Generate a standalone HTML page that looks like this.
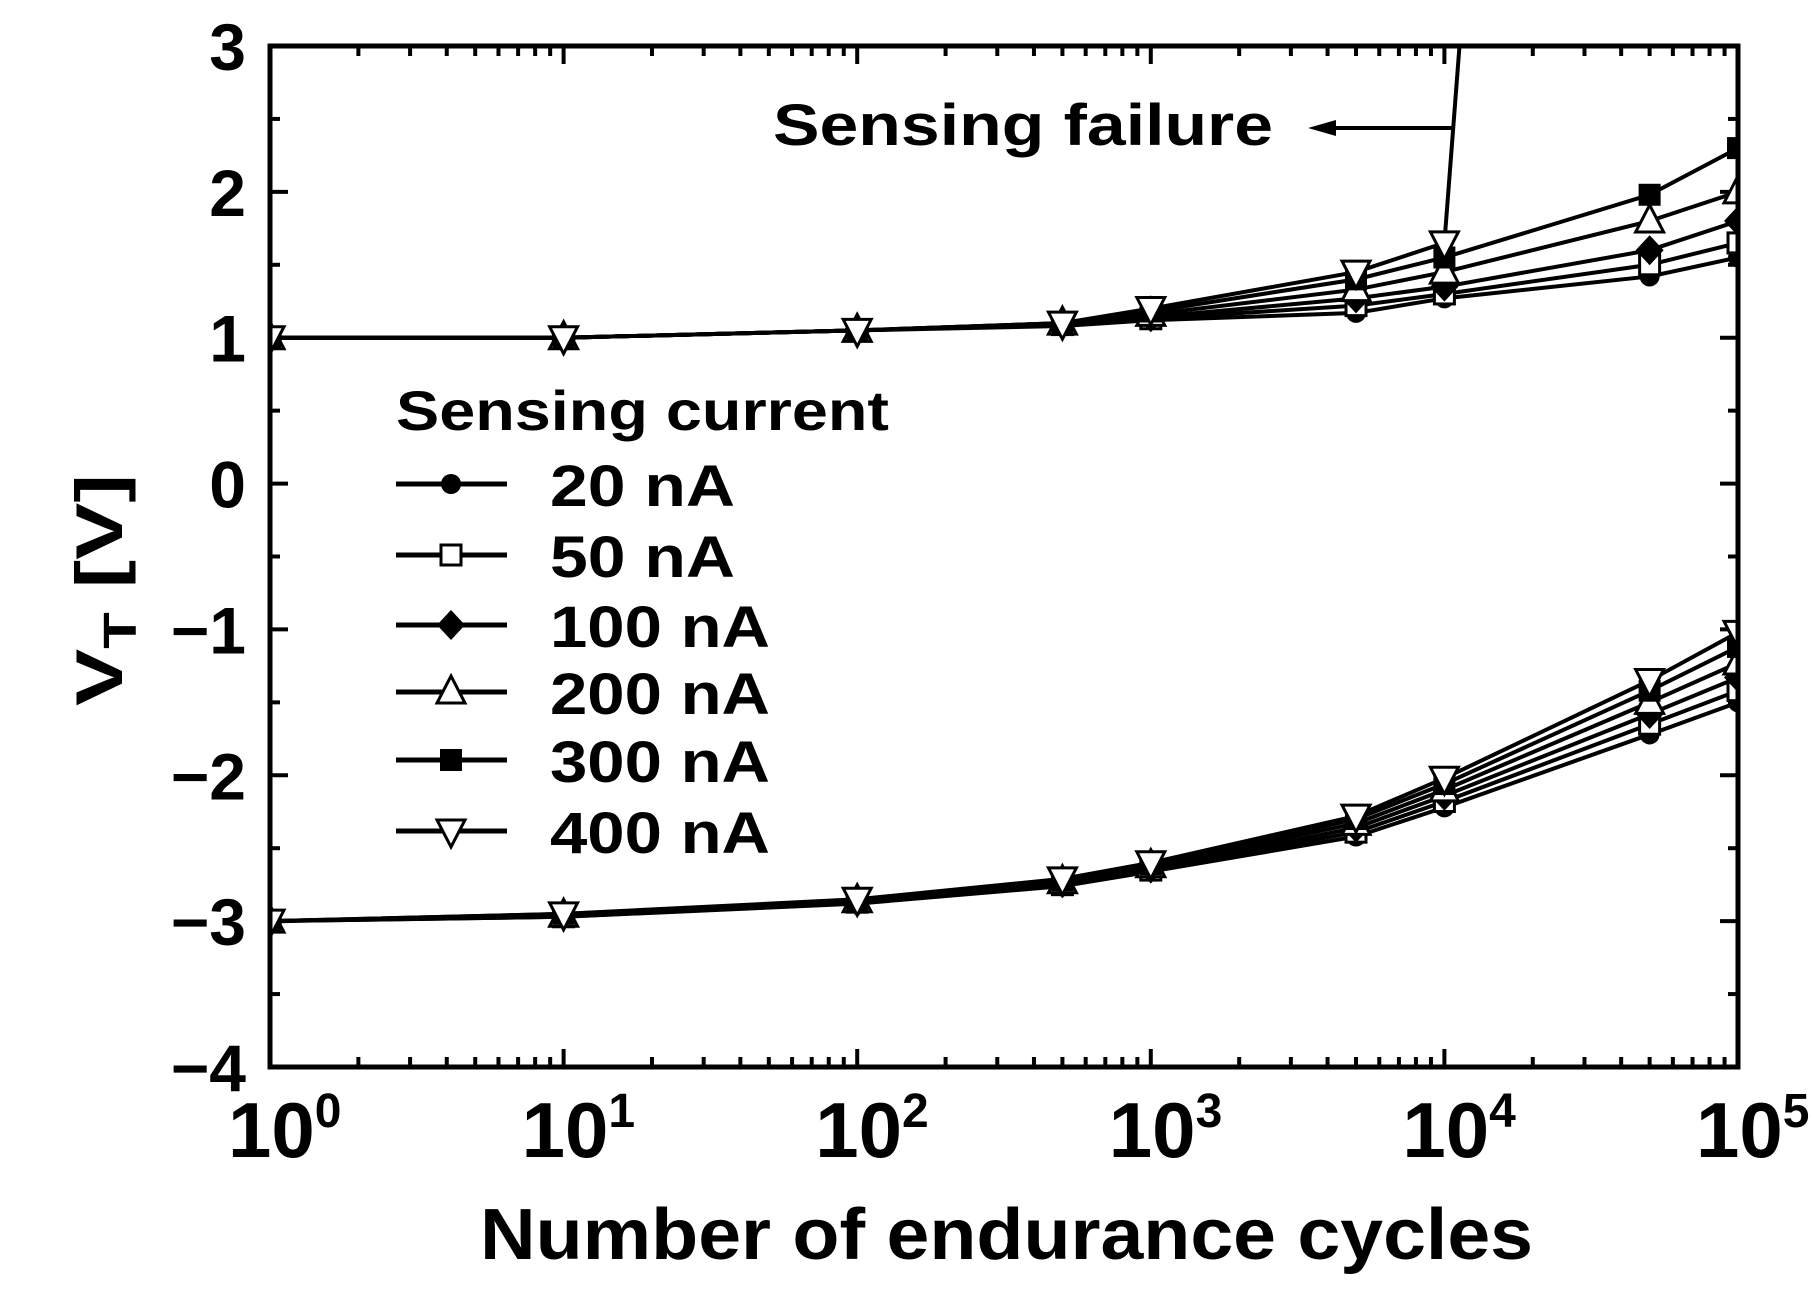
<!DOCTYPE html>
<html><head><meta charset="utf-8"><style>html,body{margin:0;padding:0;background:#fff}svg{display:block}text{font-family:"Liberation Sans",Arial,sans-serif;font-weight:bold;fill:#000}</style></head>
<body>
<svg id="chart" width="1814" height="1291" viewBox="0 0 1814 1291" xmlns="http://www.w3.org/2000/svg">
<g id="ticks"></g>
<g id="series"></g>
<rect x="270" y="46" width="1468" height="1021" fill="none" stroke="#000" stroke-width="5"/>
<g id="labels"></g>
<text x="480" y="1259" font-size="72" textLength="1053" lengthAdjust="spacingAndGlyphs">Number of  endurance  cycles</text>
<text transform="translate(122,706) rotate(-90)" font-size="66" textLength="232" lengthAdjust="spacingAndGlyphs">V<tspan font-size="46" dy="14">T</tspan><tspan dy="-14"> [V]</tspan></text>
<text x="773" y="145" font-size="58" textLength="500" lengthAdjust="spacingAndGlyphs">Sensing  failure</text>
<line x1="1452" y1="128" x2="1320" y2="128" stroke="#000" stroke-width="4"/>
<polygon points="1308,128 1336,120 1336,136" fill="#000"/>
<g id="legend">
<text x="396" y="430" font-size="56" textLength="493" lengthAdjust="spacingAndGlyphs">Sensing  current</text>
</g>
</svg>
<script>
const xCycles = [1, 10, 100, 500, 1000, 5000, 10000, 50000, 100000];
const seriesNames = ['20 nA', '50 nA', '100 nA', '200 nA', '300 nA', '400 nA'];
const markers = ['circle', 'square-open', 'diamond', 'triangle-open', 'square', 'triangle-down-open'];
const up20 = [1.0, 1.0, 1.05, 1.08, 1.12, 1.17, 1.27, 1.42, 1.55];
const up50 = [1.0, 1.0, 1.05, 1.09, 1.13, 1.22, 1.3, 1.5, 1.65];
const up100 = [1.0, 1.0, 1.05, 1.09, 1.14, 1.27, 1.35, 1.6, 1.8];
const up200 = [1.0, 1.0, 1.05, 1.1, 1.16, 1.33, 1.45, 1.8, 2.0];
const up300 = [1.0, 1.0, 1.05, 1.1, 1.18, 1.4, 1.55, 1.98, 2.3];
const up400 = [1.0, 1.0, 1.05, 1.1, 1.2, 1.45, 1.65, 20, 20];
const lo20 = [-3.0, -2.97, -2.88, -2.76, -2.66, -2.42, -2.22, -1.72, -1.5];
const lo50 = [-3.0, -2.97, -2.87, -2.75, -2.65, -2.39, -2.18, -1.65, -1.42];
const lo100 = [-3.0, -2.96, -2.87, -2.74, -2.64, -2.36, -2.14, -1.58, -1.33];
const lo200 = [-3.0, -2.96, -2.86, -2.73, -2.62, -2.33, -2.1, -1.5, -1.23];
const lo300 = [-3.0, -2.95, -2.86, -2.72, -2.61, -2.3, -2.06, -1.42, -1.12];
const lo400 = [-3.0, -2.95, -2.85, -2.71, -2.6, -2.28, -2.02, -1.35, -1.02];
const upper = [up20, up50, up100, up200, up300, up400];
const lower = [lo20, lo50, lo100, lo200, lo300, lo400];
const yTicks = [3, 2, 1, 0, -1, -2, -3, -4];
const yTickLabels = ['3', '2', '1', '0', '\u22121', '\u22122', '\u22123', '\u22124'];
const xDecades = [0, 1, 2, 3, 4, 5];

const NS = 'http://www.w3.org/2000/svg';
const L = 270, R = 1738, T = 46, B = 1067;
const sx = v => L + (Math.log10(v) - 0) / 5 * (R - L);
const sy = v => T + (3 - v) / 7 * (B - T);
function mk(tag, attrs, parent) {
  const e = document.createElementNS(NS, tag);
  for (const k in attrs) e.setAttribute(k, attrs[k]);
  parent.appendChild(e);
  return e;
}
const gT = document.getElementById('ticks'), gS = document.getElementById('series'), gL = document.getElementById('labels'), gLeg = document.getElementById('legend');
// x ticks
for (let d = 0; d < 5; d++) {
  for (let m = 1; m < 10; m++) {
    const x = sx(Math.pow(10, d) * m);
    const len = m === 1 ? 18 : 10;
    const t1 = mk('line', {x1: x, x2: x, y1: B, y2: B - len, stroke: '#000', 'stroke-width': 4}, gT);
    
    
    const t2 = mk('line', {x1: x, x2: x, y1: T, y2: T + len, stroke: '#000', 'stroke-width': 4}, gT);
    
    
  }
}
// y ticks
for (let v = -4; v <= 3; v += 0.5) {
  const y = sy(v);
  const len = Number.isInteger(v) ? 18 : 10;
  const a = mk('line', {x1: L, x2: L + len, y1: y, y2: y, stroke: '#000', 'stroke-width': 4}, gT);
  
  
  const b = mk('line', {x1: R, x2: R - len, y1: y, y2: y, stroke: '#000', 'stroke-width': 4}, gT);
  
  
}
yTicks.forEach((v, i) => {
  const t = mk('text', {x: 246, y: sy(v) + 24, 'font-size': 66, 'text-anchor': 'end'}, gL);
  
  
  t.textContent = yTickLabels[i];
});
xDecades.forEach(d => {
  const x = sx(Math.pow(10, d));
  const t = mk('text', {x: x - 42, y: 1157, 'font-size': 78}, gL);
  
  
  t.textContent = '10';
  const s = mk('tspan', {'font-size': 48, dy: -30}, t);
  s.textContent = String(d);
});
function marker(type, x, y, parent) {
  let e;
  const fillOpen = '#fff';
  if (type === 'circle') e = mk('circle', {cx: x, cy: y, r: 10, fill: '#000'}, parent);
  else if (type === 'square-open') e = mk('rect', {x: x - 10, y: y - 10, width: 20, height: 20, fill: fillOpen, stroke: '#000', 'stroke-width': 3}, parent);
  else if (type === 'square') e = mk('rect', {x: x - 11, y: y - 11, width: 22, height: 22, fill: '#000'}, parent);
  else if (type === 'diamond') e = mk('polygon', {points: `${x},${y-15} ${x+14},${y} ${x},${y+15} ${x-14},${y}`, fill: '#000'}, parent);
  else if (type === 'triangle-open') e = mk('polygon', {points: `${x},${y-16} ${x+14},${y+11} ${x-14},${y+11}`, fill: fillOpen, stroke: '#000', 'stroke-width': 3}, parent);
  else e = mk('polygon', {points: `${x},${y+16} ${x+14},${y-11} ${x-14},${y-11}`, fill: fillOpen, stroke: '#000', 'stroke-width': 3}, parent);
  return e;
}
mk('clipPath', {id: 'pc'}, document.getElementById('chart'));
mk('rect', {x: L, y: T, width: R - L, height: B - T}, document.getElementById('pc'));
gS.setAttribute('clip-path', 'url(#pc)');
[upper, lower].forEach((grp, gi) => {
  grp.forEach((vals, si) => {
    const pts = vals.map((v, i) => sx(xCycles[i]) + ',' + sy(v)).join(' ');
    const pl = mk('polyline', {points: pts, fill: 'none', stroke: '#000', 'stroke-width': 4}, gS);
    
    
  });
  grp.forEach((vals, si) => {
    vals.forEach((v, i) => {
      if (v > 3.2) return;
      const m = marker(markers[si], sx(xCycles[i]), sy(v), gS);
      
      
    });
  });
});
const legY = [484, 555, 625, 692, 760, 831];
seriesNames.forEach((n, i) => {
  const y = legY[i];
  const ln = mk('line', {x1: 396, x2: 507, y1: y, y2: y, stroke: '#000', 'stroke-width': 5}, gLeg);
  
  
  const m = marker(markers[i], 451, y, gLeg);
  
  
  const t = mk('text', {x: 550, y: y + 22, 'font-size': 58, textLength: n.length === 5 ? 185 : 220, lengthAdjust: 'spacingAndGlyphs'}, gLeg);
  
  
  t.textContent = n.replace(' ', '  ');
});
</script>
</body></html>
